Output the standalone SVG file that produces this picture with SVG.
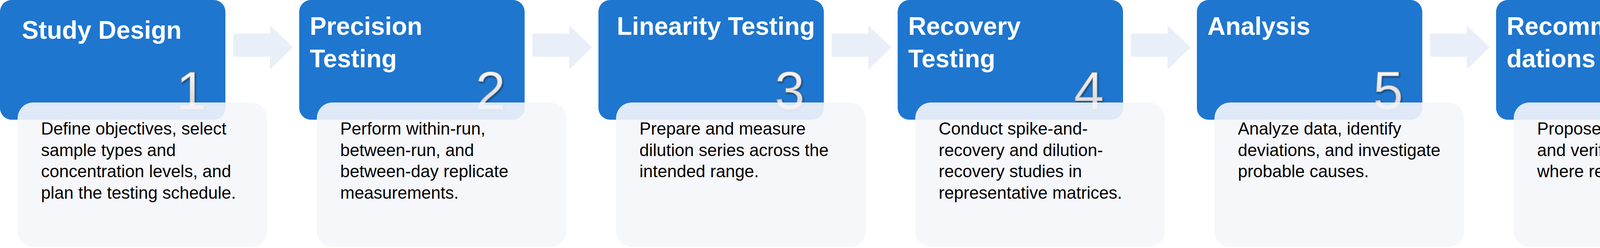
<svg xmlns="http://www.w3.org/2000/svg" width="4513" height="634" viewBox="0 0 4513 634">
<style>
.box{fill:#1E76CF}
.card{fill:#F4F6FB;fill-opacity:0.9}
.arrow{fill:#E9EFF9}
.title{font-family:"Liberation Sans",Arial,sans-serif;font-weight:bold;font-size:64px;fill:#FFFFFF}
.body{font-family:"Liberation Sans",Arial,sans-serif;font-size:44px;fill:#000000}
.num{font-family:"Liberation Sans",Arial,sans-serif;font-size:138px;fill:url(#ng);stroke:#8E8E8E;stroke-width:1.5;text-anchor:end;filter:url(#sh)}
</style>
<defs>
<linearGradient id="ng" x1="0" y1="0" x2="0" y2="1">
<stop offset="0" stop-color="#FFFFFF"/><stop offset="1" stop-color="#C8CCD2"/>
</linearGradient>
<filter id="sh" x="-20%" y="-20%" width="150%" height="150%">
<feDropShadow dx="2" dy="3" stdDeviation="2" flood-color="#000" flood-opacity="0.45"/>
</filter>
</defs>
<g id="connectors">
<polygon class="arrow" points="597,86 691,86 691,65 750,121 691,178 691,145 597,145"/>
<polygon class="arrow" transform="translate(766,0)" points="597,86 691,86 691,65 750,121 691,178 691,145 597,145"/>
<polygon class="arrow" transform="translate(1532,0)" points="597,86 691,86 691,65 750,121 691,178 691,145 597,145"/>
<polygon class="arrow" transform="translate(2298,0)" points="597,86 691,86 691,65 750,121 691,178 691,145 597,145"/>
<polygon class="arrow" transform="translate(3064,0)" points="597,86 691,86 691,65 750,121 691,178 691,145 597,145"/>
</g>
<g id="step1">
<rect class="box" x="0" y="0" width="577" height="306" rx="30"/>
<text class="title" x="56" y="99">Study Design</text>
<text class="num" x="528" y="279">1</text>
<rect class="card" x="45" y="262" width="639" height="369" rx="40"/>
<text class="body"><tspan x="105" y="344">Define objectives, select</tspan><tspan x="105" y="399">sample types and</tspan><tspan x="105" y="453">concentration levels, and</tspan><tspan x="105" y="508">plan the testing schedule.</tspan></text>
</g>
<g id="step2">
<rect class="box" x="766" y="0" width="577" height="306" rx="30"/>
<text class="title" x="793" y="89">Precision</text>
<text class="title" x="793" y="172">Testing</text>
<text class="num" x="1294" y="279">2</text>
<rect class="card" x="811" y="262" width="639" height="369" rx="40"/>
<text class="body"><tspan x="871" y="344">Perform within-run,</tspan><tspan x="871" y="399">between-run, and</tspan><tspan x="871" y="453">between-day replicate</tspan><tspan x="871" y="508">measurements.</tspan></text>
</g>
<g id="step3">
<rect class="box" x="1532" y="0" width="577" height="306" rx="30"/>
<text class="title" x="1579" y="89">Linearity Testing</text>
<text class="num" x="2060" y="279">3</text>
<rect class="card" x="1577" y="262" width="639" height="369" rx="40"/>
<text class="body"><tspan x="1637" y="344">Prepare and measure</tspan><tspan x="1637" y="399">dilution series across the</tspan><tspan x="1637" y="453">intended range.</tspan></text>
</g>
<g id="step4">
<rect class="box" x="2298" y="0" width="577" height="306" rx="30"/>
<text class="title" x="2325" y="89">Recovery</text>
<text class="title" x="2325" y="172">Testing</text>
<text class="num" x="2826" y="279">4</text>
<rect class="card" x="2343" y="262" width="639" height="369" rx="40"/>
<text class="body"><tspan x="2403" y="344">Conduct spike-and-</tspan><tspan x="2403" y="399">recovery and dilution-</tspan><tspan x="2403" y="453">recovery studies in</tspan><tspan x="2403" y="508">representative matrices.</tspan></text>
</g>
<g id="step5">
<rect class="box" x="3064" y="0" width="577" height="306" rx="30"/>
<text class="title" x="3091" y="89">Analysis</text>
<text class="num" x="3592" y="279">5</text>
<rect class="card" x="3109" y="262" width="639" height="369" rx="40"/>
<text class="body"><tspan x="3169" y="344">Analyze data, identify</tspan><tspan x="3169" y="399">deviations, and investigate</tspan><tspan x="3169" y="453">probable causes.</tspan></text>
</g>
<g id="step6">
<rect class="box" x="3830" y="0" width="577" height="306" rx="30"/>
<text class="title" x="3857" y="89">Recommen-</text>
<text class="title" x="3857" y="172">dations</text>
<text class="num" x="4358" y="279">6</text>
<rect class="card" x="3875" y="262" width="638" height="369" rx="40"/>
<text class="body"><tspan x="3935" y="344">Propose corrective actions</tspan><tspan x="3935" y="399">and verify improvements</tspan><tspan x="3935" y="453">where requested.</tspan></text>
</g>
</svg>
